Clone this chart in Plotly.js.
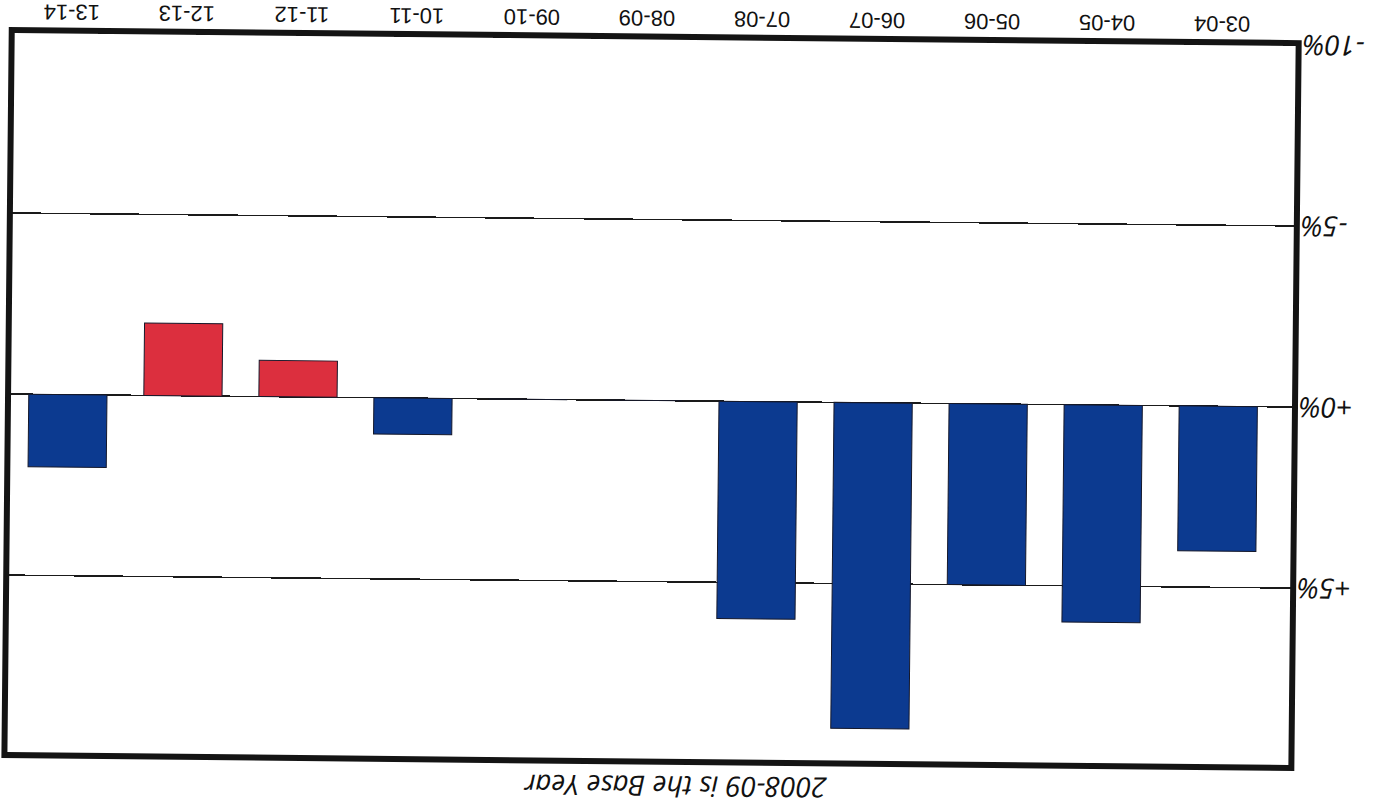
<!DOCTYPE html>
<html>
<head>
<meta charset="utf-8">
<script src="https://cdn.plot.ly/plotly-3.0.1.min.js"></script>
<style>
  html, body { margin: 0; padding: 0; background: #ffffff; overflow: hidden; }
  #chart { width: 1387px; height: 807px; transform: rotate(180.58deg); transform-origin: 693.5px 403.5px; }
</style>
</head>
<body>
<div id="chart"></div>
<script>
// Year-on-year change relative to base year 2008-09 (percent)
const categories = ['03-04','04-05','05-06','06-07','07-08','08-09','09-10','10-11','11-12','12-13','13-14'];
const changes = [4, 6, 5, 9, 6, 0, 0, 1, -1, -2, 2];
const yTickValues = [-10, -5, 0, 5, 10];
const yTickLabels = ['-10%', '-5%', '+0%', '+5%', '+10%'];
const chartTitle = '2008-09 is the Base Year';

const BLUE = '#0c3a90';
const RED = '#dc2f3e';
const barColors = changes.map(v => (v < 0 ? RED : BLUE));

const trace = {
  type: 'bar',
  x: categories,
  y: changes,
  width: 0.68,
  marker: { color: barColors, line: { color: '#15182a', width: 1 } },
  hoverinfo: 'x+y'
};

const layout = {
  width: 1387,
  height: 807,
  paper_bgcolor: '#ffffff',
  plot_bgcolor: '#ffffff',
  margin: { l: 92, r: 8, t: 45, b: 37 },
  showlegend: false,
  title: {
    text: chartTitle,
    font: { family: 'Open Sans, DejaVu Sans, sans-serif', size: 28, style: 'italic', color: '#111111' },
    xref: 'container', yref: 'container',
    x: 0.51, xanchor: 'center',
    y: 0.974, yanchor: 'middle'
  },
  xaxis: {
    type: 'category',
    range: [-0.667, 10.52],
    showgrid: false,
    zeroline: false,
    showline: false,
    ticks: '',
    ticklabelstandoff: 3,
    tickfont: { family: 'Liberation Sans, Arial, sans-serif', size: 22, color: '#111111' }
  },
  yaxis: {
    range: [-10.05, 9.97],
    tickvals: yTickValues,
    ticktext: yTickLabels,
    showgrid: true,
    gridcolor: '#1a1a1a',
    gridwidth: 1.5,
    zeroline: true,
    zerolinecolor: '#1a1a1a',
    zerolinewidth: 1.5,
    showline: false,
    ticks: '',
    ticklabelstandoff: 3,
    tickfont: { family: 'Open Sans, DejaVu Sans, sans-serif', size: 28, style: 'italic', color: '#111111' }
  },
  shapes: [{
    type: 'rect', xref: 'paper', yref: 'paper',
    x0: 0, x1: 1, y0: 0, y1: 1,
    line: { color: '#141414', width: 6 },
    fillcolor: 'rgba(0,0,0,0)',
    layer: 'above'
  }]
};

Plotly.newPlot('chart', [trace], layout, { displayModeBar: false, staticPlot: true });
</script>
</body>
</html>
